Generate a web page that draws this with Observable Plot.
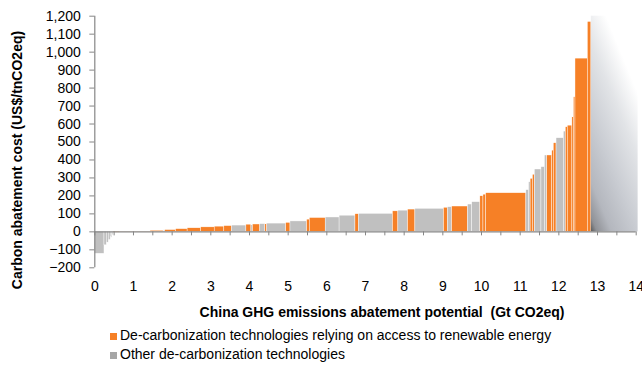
<!DOCTYPE html>
<html>
<head>
<meta charset="utf-8">
<script src="https://cdn.jsdelivr.net/npm/d3@7"></script>
<script src="https://cdn.jsdelivr.net/npm/@observablehq/plot@0.6"></script>
<style>
  body { margin: 0; background: #fff; font-family: "Liberation Sans", Arial, sans-serif; }
  #chart svg { display: block; }
  #legend { padding-left: 110px; font-size: 14px; line-height: 19px; color: #000; }
  #legend .row { display: flex; align-items: center; white-space: nowrap; }
  #legend .sw { width: 7px; height: 7px; margin-right: 3px; margin-top: 2px; flex: none; }
</style>
</head>
<body>
<div id="chart"></div>
<div id="legend"></div>
<script>
// Widths of each abatement block (Gt CO2eq), in order along the curve
const barWidths = [0.25, 0.06, 0.05, 0.05, 0.04, 0.03, 0.17, 0.79, 0.34, 0.04,
  0.28, 0.30, 0.35, 0.35, 0.25, 0.20, 0.37, 0.13, 0.04, 0.19,
  0.13, 0.05, 0.49, 0.11, 0.43, 0.07, 0.41, 0.36, 0.41, 0.09,
  0.88, 0.14, 0.25, 0.19, 0.74, 0.10, 0.11, 0.41, 0.11, 0.21,
  0.08, 0.07, 1.04, 0.07, 0.04, 0.06, 0.05, 0.17, 0.09, 0.06,
  0.13, 0.04, 0.07, 0.19, 0.05, 0.05, 0.12, 0.04, 0.04, 0.32, 0.09];
// Abatement cost of each block (US$/tCO2eq)
const barCosts = [-122, -75, -60, -45, -32, -18, -4, 1, 6, 8,
  10, 15, 20, 25, 29, 32, 35, 40, 40, 41,
  43, 44, 46, 50, 58, 68, 77, 80, 90, 98,
  100, 114, 118, 124, 128, 134, 137, 141, 152, 165,
  198, 207, 215, 232, 276, 295, 318, 347, 360, 425,
  425, 452, 493, 521, 558, 582, 591, 638, 749, 964, 1168];
// 0 = relying on renewable energy, 1 = other
const barTypes = [1, 1, 1, 1, 1, 1, 0, 0, 0, 1,
  0, 0, 0, 0, 0, 0, 1, 0, 1, 0,
  1, 0, 1, 0, 1, 0, 0, 1, 1, 0,
  1, 0, 1, 0, 1, 0, 1, 0, 1, 1,
  0, 0, 0, 1, 1, 0, 0, 1, 1, 1,
  0, 0, 0, 1, 1, 0, 0, 0, 0, 0, 0];
const typeNames = ["De-carbonization technologies relying on access to renewable energy", "Other de-carbonization technologies"];
const typeColors = ["#f68026", "#c0c0c0"];
const legendColors = ["#f68026", "#a6a6a6"];
const xTickLabels = [0, 1, 2, 3, 4, 5, 6, 7, 8, 9, 10, 11, 12, 13, 14];
const xTickMarks = d3.range(0, 14.01, 0.5);
const yTicks = [-200, -100, 0, 100, 200, 300, 400, 500, 600, 700, 800, 900, 1000, 1100, 1200];
const fadeX = [12.84, 14.05];
const fadeY = [0, 1200];
const xTitle = "China GHG emissions abatement potential  (Gt CO2eq)";
const yTitle = "Carbon abatement cost (US$/tnCO2eq)";

let acc = 0;
const bars = barWidths.map((w, i) => {
  const x1 = acc; acc += w;
  return {x1, x2: acc, cost: barCosts[i], type: typeNames[barTypes[i]]};
});
const fade = [{x1: fadeX[0], x2: fadeX[1], y1: fadeY[0], y2: fadeY[1]}];

const axisColor = "#868686";
const chart = Plot.plot({
  width: 642,
  height: 326,
  marginLeft: 94.3,
  marginRight: 6.3,
  marginTop: 15.7,
  marginBottom: 58.7,
  x: {domain: [0, 14]},
  y: {domain: [-200, 1200]},
  color: {domain: typeNames, range: typeColors},
  style: {fontFamily: "'Liberation Sans', Arial, sans-serif", fontSize: "14px", color: "#000", background: "white"},
  marks: [
    Plot.rect(bars, {x1: "x1", x2: "x2", y1: 0, y2: "cost", fill: "type", stroke: "white", strokeWidth: 0.4}),
    Plot.rect(fade, {x1: "x1", x2: "x2", y1: "y1", y2: "y2", fill: "url(#fadeGrad)"}),
    Plot.ruleY([0], {stroke: axisColor, strokeWidth: 1.2}),
    Plot.ruleX([0], {stroke: axisColor, strokeWidth: 1.2}),
    Plot.ruleX(xTickMarks, {x: d => d, y1: 0, y2: 0, insetBottom: -4, stroke: axisColor}),
    Plot.axisY({ticks: yTicks, tickFormat: d3.format(","), tickSize: 5, tickPadding: 9, label: null, stroke: axisColor, fill: "#000", fontSize: 14}),
    Plot.axisX({ticks: xTickLabels, tickSize: 0, tickPadding: 13, label: null, fill: "#000", fontSize: 14}),
    Plot.text([xTitle], {text: d => d, frameAnchor: "bottom", lineAnchor: "middle", textAnchor: "middle", dy: 44.7, dx: 16.5, fontWeight: "bold", fontSize: 14}),
    Plot.text([yTitle], {text: d => d, frameAnchor: "left", lineAnchor: "middle", textAnchor: "middle", rotate: -90, dx: -77, dy: 18, fontWeight: "bold", fontSize: 14})
  ]
});

// gradient for the "beyond" block, in user space from the block's scaled corners
const sx = chart.scale("x"), sy = chart.scale("y");
const gx0 = sx.apply(fadeX[0]), gy0 = sy.apply(fadeY[0]);
const gx1 = sx.apply(fadeX[1]), gy1 = sy.apply(fadeY[1]);
const ns = "http://www.w3.org/2000/svg";
const defs = document.createElementNS(ns, "defs");
const grad = document.createElementNS(ns, "linearGradient");
grad.setAttribute("id", "fadeGrad");
grad.setAttribute("gradientUnits", "userSpaceOnUse");
grad.setAttribute("x1", gx0); grad.setAttribute("y1", gy0);
grad.setAttribute("x2", gx0 + 1.9 * (gx1 - gx0)); grad.setAttribute("y2", gy0 - 0.17 * (gy0 - gy1));
[[0, "#5a5a5a"], [0.06, "#909297"], [0.2, "#b4b7be"], [0.45, "#c9ccd2"], [0.75, "#e2e4e7"], [1, "#ffffff"]].forEach(([o, c]) => {
  const s = document.createElementNS(ns, "stop");
  s.setAttribute("offset", o); s.setAttribute("stop-color", c);
  grad.appendChild(s);
});
defs.appendChild(grad);
chart.insertBefore(defs, chart.firstChild);
document.getElementById("chart").appendChild(chart);

const legend = document.getElementById("legend");
typeNames.forEach((name, i) => {
  const row = document.createElement("div");
  row.className = "row";
  const sw = document.createElement("span");
  sw.className = "sw";
  sw.style.background = legendColors[i];
  const tx = document.createElement("span");
  tx.textContent = name;
  row.appendChild(sw); row.appendChild(tx);
  legend.appendChild(row);
});
</script>
</body>
</html>
